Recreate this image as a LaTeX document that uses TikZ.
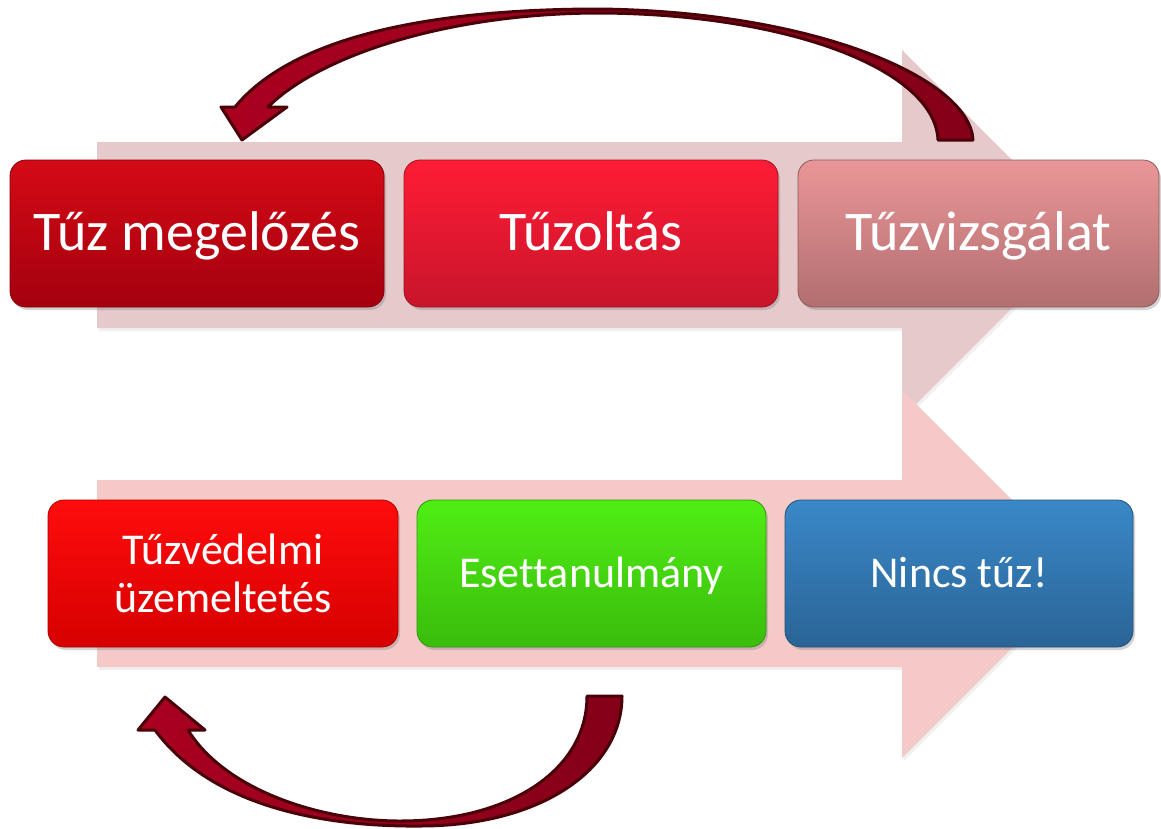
\documentclass[tikz,border=0pt]{standalone}
\usepackage{fontspec}
\setmainfont[Ligatures=NoCommon]{Carlito}
\usetikzlibrary{shadows}
\definecolor{bgtop}{RGB}{230,202,203}
\definecolor{bgbot}{RGB}{246,201,201}
\definecolor{arrline}{RGB}{74,0,8}
\definecolor{arrleft}{RGB}{170,0,32}
\definecolor{arrright}{RGB}{132,0,24}
\definecolor{aTop}{RGB}{212,10,22}\definecolor{aBot}{RGB}{164,0,14}
\definecolor{bTop}{RGB}{255,28,54}\definecolor{bBot}{RGB}{200,21,42}
\definecolor{cTop}{RGB}{234,150,152}\definecolor{cBot}{RGB}{178,110,112}
\definecolor{dTop}{RGB}{255,12,12}\definecolor{dBot}{RGB}{214,0,0}
\definecolor{eTop}{RGB}{80,238,20}\definecolor{eBot}{RGB}{58,188,12}
\definecolor{fTop}{RGB}{58,136,200}\definecolor{fBot}{RGB}{42,100,150}
\begin{document}
\begin{tikzpicture}[x=1pt,y=-1pt,
  box/.style={rounded corners=16pt, minimum height=147pt, inner sep=0pt,
    text=white, align=center, line width=0.8pt,
    drop shadow={shadow xshift=2pt, shadow yshift=-3pt, opacity=0.35}},
  bigtext/.style={font=\fontsize{56}{60}\selectfont, text height=38pt, text depth=5pt},
  smalltext/.style={font=\fontsize{44}{48}\selectfont},
  oneline/.style={text height=30pt, text depth=3pt},
  bgarrow/.style={drop shadow={shadow xshift=2pt, shadow yshift=-3pt, opacity=0.12}},
  curved/.style={draw=arrline, line width=3pt, line join=round, left color=arrleft, right color=arrright}]
\useasboundingbox (0,0) rectangle (1161,828);
% background arrows
\path[bgarrow, fill=bgtop] (97,142) -- (902,142) -- (902,50) -- (1086,234) -- (902,418) -- (902,328) -- (97,328) -- cycle;
\path[bgarrow, fill=bgbot] (97,480) -- (902,480) -- (902,390) -- (1086,574) -- (902,758) -- (902,667) -- (97,667) -- cycle;
% boxes, top row
\node[box, bigtext, minimum width=374pt, top color=aTop, bottom color=aBot, draw=aBot!80!black] (a1) at (197,233.5) {Tűz megelőzés};
\node[box, bigtext, minimum width=374pt, top color=bTop, bottom color=bBot, draw=bBot!80!black] (a2) at (591,233.5) {Tűzoltás};
\node[box, bigtext, minimum width=361pt, top color=cTop, bottom color=cBot, draw=cBot!80!black] (a3) at (978.5,233.5) {Tűzvizsgálat};
% boxes, bottom row
\node[box, smalltext, minimum width=350pt, top color=dTop, bottom color=dBot, draw=dBot!80!black] (b1) at (223,573.5) {Tűzvédelmi\\üzemeltetés};
\node[box, smalltext, oneline, minimum width=349pt, top color=eTop, bottom color=eBot, draw=eBot!80!black] (b2) at (591.5,573.5) {Esettanulmány};
\node[box, smalltext, oneline, minimum width=348pt, top color=fTop, bottom color=fBot, draw=fBot!80!black] (b3) at (959,573.5) {Nincs tűz!};
% curved arrows
\path[curved] (973,140) .. controls (970,80) and (820,12) .. (600,9)
  .. controls (420,9) and (290,40) .. (235,107)
  -- (221,107) -- (242,140) -- (287,107) -- (268,107)
  .. controls (320,55) and (450,13) .. (600,13)
  .. controls (790,14) and (935,70) .. (938,140) -- cycle;
\path[curved] (622,696) .. controls (622,770) and (540,826) .. (420,826)
  .. controls (320,827) and (210,805) .. (155,730)
  -- (138,730) -- (165,697) -- (205,730) -- (188,730)
  .. controls (225,790) and (320,821) .. (400,821)
  .. controls (510,821) and (587,770) .. (587,696) -- cycle;
\end{tikzpicture}
\end{document}
